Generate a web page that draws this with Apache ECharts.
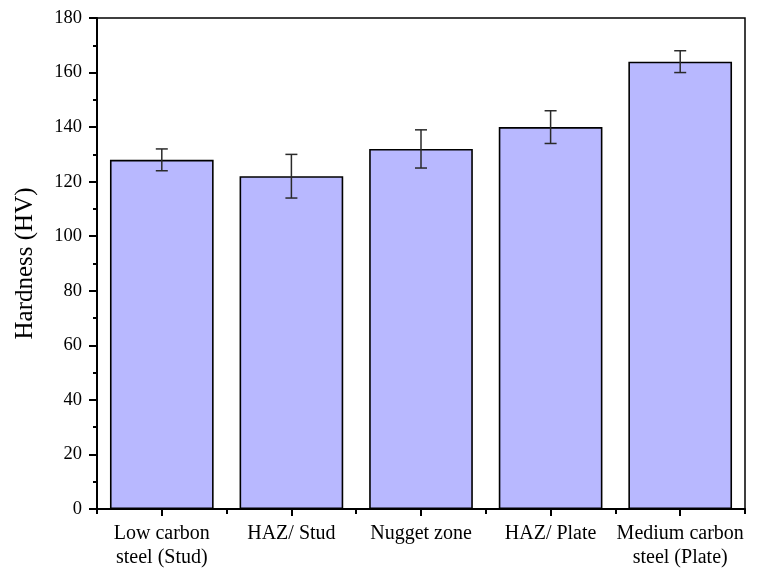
<!DOCTYPE html>
<html>
<head>
<meta charset="utf-8">
<script src="https://cdn.jsdelivr.net/npm/echarts@6/dist/echarts.min.js"></script>
<style>html,body{margin:0;padding:0;background:#fff}#c{width:757px;height:570px}</style>
</head>
<body>
<div id="c"></div>
<script>
var categories = ['Low carbon\nsteel (Stud)', 'HAZ/ Stud', 'Nugget zone', 'HAZ/ Plate', 'Medium carbon\nsteel (Plate)'];
var hardness = [128, 122, 132, 140, 164];
var errors = [4, 8, 7, 6, 4];
var yTicks = [0, 180, 20];

var errData = hardness.map(function (v, i) { return [i, v - errors[i], v + errors[i]]; });
var FONT = '"Liberation Serif", "Times New Roman", serif';

var chart = echarts.init(document.getElementById('c'), null, {renderer: 'canvas'});
chart.setOption({
  animation: false,
  backgroundColor: '#fff',
  grid: {left: 97, right: 12, top: 18, bottom: 60, show: true, borderColor: '#000', borderWidth: 1.5, backgroundColor: 'transparent'},
  xAxis: [{
    type: 'category',
    data: categories,
    position: 'bottom',
    axisLine: {show: true, lineStyle: {color: '#000', width: 2}},
    axisTick: {show: true, alignWithLabel: true, length: 7, lineStyle: {color: '#000', width: 2}},
    axisLabel: {color: '#000', fontFamily: FONT, fontSize: 20, margin: 13, lineHeight: 24, interval: 0},
    splitLine: {show: false}
  }, {
    type: 'category',
    data: categories,
    position: 'bottom',
    axisLine: {show: false},
    axisTick: {show: true, length: 5, lineStyle: {color: '#000', width: 2}},
    axisLabel: {show: false},
    splitLine: {show: false}
  }],
  yAxis: {
    type: 'value',
    min: yTicks[0], max: yTicks[1], interval: yTicks[2],
    name: 'Hardness (HV)',
    nameLocation: 'middle',
    nameGap: 59,
    nameTextStyle: {color: '#000', fontFamily: FONT, fontSize: 25},
    axisLine: {show: true, lineStyle: {color: '#000', width: 2}},
    axisTick: {show: true, length: 8, lineStyle: {color: '#000', width: 2}},
    minorTick: {show: true, splitNumber: 2, length: 4, lineStyle: {color: '#000', width: 2}},
    axisLabel: {color: '#000', fontFamily: FONT, fontSize: 18.5, margin: 15},
    splitLine: {show: false}
  },
  series: [{
    type: 'bar',
    data: hardness,
    barWidth: '80%',
    itemStyle: {color: '#b8b8ff', borderColor: '#000', borderWidth: 1.6}
  }, {
    type: 'custom',
    data: errData,
    z: 5,
    renderItem: function (params, api) {
      var x = api.value(0);
      var lo = api.coord([x, api.value(1)]);
      var hi = api.coord([x, api.value(2)]);
      var hw = 6;
      var st = {stroke: '#2a2a2a', lineWidth: 1.5, fill: null};
      return {type: 'group', children: [
        {type: 'line', shape: {x1: hi[0], y1: hi[1], x2: lo[0], y2: lo[1]}, style: st},
        {type: 'line', shape: {x1: hi[0] - hw, y1: hi[1], x2: hi[0] + hw, y2: hi[1]}, style: st},
        {type: 'line', shape: {x1: lo[0] - hw, y1: lo[1], x2: lo[0] + hw, y2: lo[1]}, style: st}
      ]};
    }
  }]
});
</script>
</body>
</html>
